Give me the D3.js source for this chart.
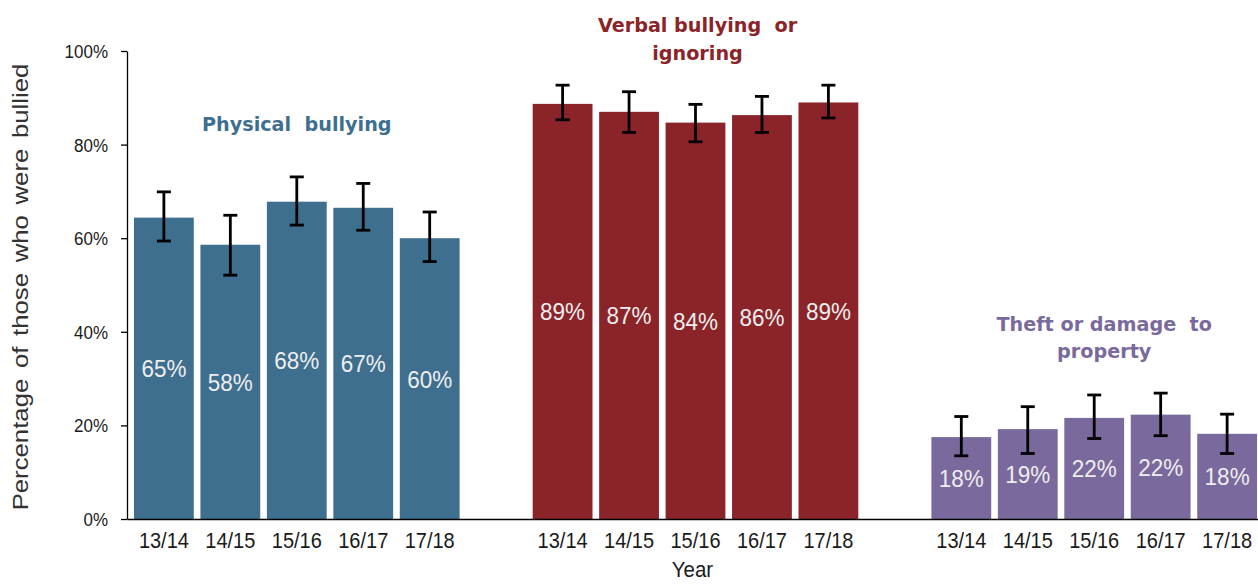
<!DOCTYPE html>
<html>
<head>
<meta charset="utf-8">
<script src="https://cdn.jsdelivr.net/npm/d3@7"></script>
<style>
  html, body { margin: 0; padding: 0; background: #fff; }
  svg { display: block; }
</style>
</head>
<body>
<svg id="chart" width="1258" height="587"></svg>
<script>
// ---- data ----
const years = ["13/14", "14/15", "15/16", "16/17", "17/18"];
const groupNames = ["Physical bullying", "Verbal bullying or ignoring", "Theft or damage to property"];
const groupTitleLines = [["Physical  bullying"], ["Verbal bullying  or", "ignoring"], ["Theft or damage  to", "property"]];
const yTicks = [0, 20, 40, 60, 80, 100];

const physicalValues = [64.4, 58.6, 67.8, 66.5, 60.0];
const physicalLabels = ["65%", "58%", "68%", "67%", "60%"];
const physicalLow = [59.4, 52.1, 62.8, 61.7, 55.0];
const physicalHigh = [69.9, 64.9, 73.1, 71.7, 65.6];

const verbalValues = [88.7, 87.0, 84.7, 86.3, 89.0];
const verbalLabels = ["89%", "87%", "84%", "86%", "89%"];
const verbalLow = [85.3, 82.6, 80.6, 82.6, 85.7];
const verbalHigh = [92.7, 91.3, 88.6, 90.3, 92.7];

const theftValues = [17.5, 19.2, 21.6, 22.3, 18.2];
const theftLabels = ["18%", "19%", "22%", "22%", "18%"];
const theftLow = [13.5, 14.0, 17.2, 17.8, 14.0];
const theftHigh = [21.9, 24.0, 26.5, 26.9, 22.4];

const groupColors = ["#3e6f8f", "#8b2429", "#7a699c"];

// ---- build rows ----
const seriesVals = [physicalValues, verbalValues, theftValues];
const seriesLabels = [physicalLabels, verbalLabels, theftLabels];
const seriesLow = [physicalLow, verbalLow, theftLow];
const seriesHigh = [physicalHigh, verbalHigh, theftHigh];

const rows = [];
const slots = [];
groupNames.forEach((g, gi) => {
  years.forEach((yr, yi) => {
    const key = gi + "|" + yr;
    slots.push(key);
    rows.push({ key, group: gi, year: yr, value: seriesVals[gi][yi], label: seriesLabels[gi][yi],
                low: seriesLow[gi][yi], high: seriesHigh[gi][yi] });
  });
  if (gi < groupNames.length - 1) slots.push("gap" + gi);
});

// ---- layout ----
const svg = d3.select("#chart");
const x0 = 127, yBase = 519, yTop = 51;

const x = d3.scaleBand().domain(slots).range([x0, 1264]).paddingInner(0.1).paddingOuter(0.105);
const y = d3.scaleLinear().domain([0, 100]).range([yBase, yTop]);

const textFont = "'Liberation Sans', Arial, sans-serif";

// bars
svg.append("g").selectAll("rect").data(rows).join("rect")
  .attr("x", d => x(d.key))
  .attr("y", d => y(d.value))
  .attr("width", x.bandwidth())
  .attr("height", d => y(0) - y(d.value))
  .attr("fill", d => groupColors[d.group]);

// bar value labels
svg.append("g").selectAll("text").data(rows).join("text")
  .attr("transform", d => `translate(${x(d.key) + x.bandwidth() / 2},${(y(d.value) + y(0)) / 2 + 9}) scale(1,1.1)`)
  .attr("text-anchor", "middle")
  .attr("font-family", textFont)
  .attr("font-size", 22.5)
  .attr("fill", "#eeeeee")
  .text(d => d.label);

// error bars
const eb = svg.append("g").attr("stroke", "#000").attr("stroke-width", 2.8).attr("fill", "none");
const cap = 7;
rows.forEach(d => {
  const cx = x(d.key) + x.bandwidth() / 2;
  eb.append("line").attr("x1", cx).attr("x2", cx).attr("y1", y(d.low)).attr("y2", y(d.high));
  eb.append("line").attr("x1", cx - cap).attr("x2", cx + cap).attr("y1", y(d.low)).attr("y2", y(d.low));
  eb.append("line").attr("x1", cx - cap).attr("x2", cx + cap).attr("y1", y(d.high)).attr("y2", y(d.high));
});

// y axis
const yAxis = svg.append("g").attr("transform", `translate(${x0},0)`)
  .call(d3.axisLeft(y).tickValues(yTicks).tickFormat(v => v + "%").tickSize(6).tickSizeOuter(0).tickPadding(12));
yAxis.select(".domain").attr("stroke", "#000").attr("stroke-width", 1.3);
yAxis.selectAll(".tick line").attr("stroke", "#000").attr("stroke-width", 1.3);
yAxis.selectAll(".tick text")
  .attr("x", null).attr("dy", null)
  .attr("transform", "translate(-19,6.5) scale(1,1.12)")
  .attr("font-family", textFont).attr("font-size", 17).attr("fill", "#1a1a1a");

// x axis
const xAxis = svg.append("g").attr("transform", `translate(0,${yBase})`)
  .call(d3.axisBottom(x).tickValues(rows.map(r => r.key)).tickFormat(k => k.split("|")[1]).tickSize(0).tickSizeOuter(0));
xAxis.select(".domain").attr("stroke", "#000").attr("stroke-width", 1.5);
xAxis.selectAll(".tick text")
  .attr("y", null).attr("dy", null)
  .attr("transform", "translate(0,29) scale(1,1.08)")
  .attr("font-family", textFont).attr("font-size", 20).attr("fill", "#1a1a1a");

// axis titles
const midGroupCenter = (x("1|13/14") + x("1|17/18") + x.bandwidth()) / 2;
svg.append("text")
  .attr("transform", `translate(${midGroupCenter - 3},577) scale(1,1.1)`)
  .attr("text-anchor", "middle")
  .attr("font-family", textFont).attr("font-size", 20.5).attr("fill", "#1a1a1a")
  .text("Year");

svg.append("text")
  .attr("transform", `translate(28,${(yTop + yBase) / 2 + 2}) rotate(-90) scale(1.17,1)`)
  .attr("text-anchor", "middle")
  .attr("font-family", textFont).attr("font-size", 22).attr("fill", "#333")
  .attr("word-spacing", 3)
  .text("Percentage of those who were bullied");

// group titles
const titleBaselines = [[131], [32, 60], [331, 358]];
const titleDx = [0, 2, 10];
groupNames.forEach((g, gi) => {
  const cx = x(gi + "|15/16") + x.bandwidth() / 2 + titleDx[gi];
  const t = svg.append("text")
    .attr("text-anchor", "middle")
    .attr("font-family", "'DejaVu Sans', Verdana, sans-serif")
    .attr("font-weight", "bold")
    .attr("font-size", 19.2)
    .attr("fill", groupColors[gi]);
  groupTitleLines[gi].forEach((line, li) => {
    t.append("tspan").attr("x", cx).attr("y", titleBaselines[gi][li]).attr("xml:space", "preserve").text(line);
  });
});
</script>
</body>
</html>
